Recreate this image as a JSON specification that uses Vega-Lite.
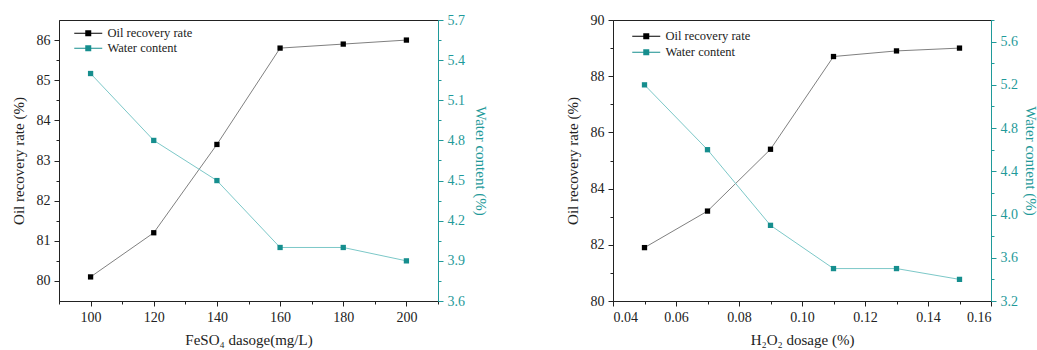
{
  "$schema": "https://vega.github.io/schema/vega-lite/v6.json",
  "background": "white",
  "padding": {"left": 10, "top": 12, "right": 2, "bottom": 2},
  "spacing": 76,
  "config": {
    "font": "Liberation Serif",
    "view": {"stroke": "#222", "strokeWidth": 1},
    "axis": {
      "grid": false,
      "labelFont": "Liberation Serif",
      "titleFont": "Liberation Serif",
      "labelFontSize": 14,
      "titleFontSize": 15,
      "titleFontWeight": "normal",
      "domainColor": "#222",
      "tickColor": "#222",
      "labelColor": "#222",
      "titleColor": "#222",
      "labelOverlap": false,
      "labelPadding": 4
    },
    "legend": {"labelFont": "Liberation Serif", "labelFontSize": 12.5, "labelColor": "#222"}
  },
  "hconcat": [
    {
      "width": 379,
      "height": 281,
      "data": {"values": [
        {"dose": 100, "oil": 80.1, "water": 5.3},
        {"dose": 120, "oil": 81.2, "water": 4.8},
        {"dose": 140, "oil": 83.4, "water": 4.5},
        {"dose": 160, "oil": 85.8, "water": 4.0},
        {"dose": 180, "oil": 85.9, "water": 4.0},
        {"dose": 200, "oil": 86.0, "water": 3.9}
      ]},
      "encoding": {
        "x": {"field": "dose", "type": "quantitative", "scale": {"domain": [90, 210], "nice": false, "zero": false},
          "axis": {"title": "FeSO₄ dasoge(mg/L)", "values": [90,100,110,120,130,140,150,160,170,180,190,200,210],
            "labelExpr": "indexof([100,120,140,160,180,200], datum.value) >= 0 ? format(datum.value, 'd') : ''",
            "tickSize": {"condition": {"test": "indexof([100,120,140,160,180,200], datum.value) < 0", "value": 3}, "value": 5},
            "titlePadding": 8}}
      },
      "layer": [
        {
          "encoding": {
            "y": {"field": "oil", "type": "quantitative", "scale": {"domain": [79.5, 86.5], "nice": false, "zero": false},
              "axis": {"title": "Oil recovery rate (%)", "values": [80,80.5,81,81.5,82,82.5,83,83.5,84,84.5,85,85.5,86],
                "labelExpr": "round(datum.value*10) % 10 == 0 ? format(datum.value, 'd') : ''",
                "tickSize": {"condition": {"test": "round(datum.value*10) % 10 != 0", "value": 3}, "value": 5},
                "titlePadding": 10}}
          },
          "layer": [
            {"mark": {"type": "line", "color": "#808080", "strokeWidth": 1}},
            {
              "mark": {"type": "point", "shape": "square", "filled": true, "size": 28, "opacity": 1},
              "encoding": {
                "color": {"datum": "Oil recovery rate", "type": "nominal",
                  "scale": {"domain": ["Oil recovery rate", "Water content"], "range": ["#000000", "#168e8e"]},
                  "legend": {"title": null, "orient": "none", "legendX": 14, "legendY": 7, "symbolType": "M-1,-0.1L4.6,-0.1L4.6,0.1L-1,0.1Z M1.2,-0.6L2.4,-0.6L2.4,0.6L1.2,0.6Z", "symbolSize": 100, "symbolStrokeWidth": 0, "rowPadding": 2, "labelOffset": 22}}
              }
            }
          ]
        },
        {
          "encoding": {
            "y": {"field": "water", "type": "quantitative", "scale": {"domain": [3.6, 5.7], "nice": false, "zero": false},
              "axis": {"orient": "right", "title": "Water content (%)", "values": [3.6,3.75,3.9,4.05,4.2,4.35,4.5,4.65,4.8,4.95,5.1,5.25,5.4,5.55,5.7],
                "labelExpr": "round(datum.value*100) % 30 == 0 ? format(datum.value, '.1f') : ''",
                "tickSize": {"condition": {"test": "round(datum.value*100) % 30 != 0", "value": 3}, "value": 5},
                "domainColor": "#1f9a9a", "tickColor": "#1f9a9a", "labelColor": "#1f9a9a", "titleColor": "#1f9a9a", "titlePadding": 8}}
          },
          "layer": [
            {"mark": {"type": "line", "color": "#7cc8c8", "strokeWidth": 1}},
            {
              "mark": {"type": "point", "shape": "square", "filled": true, "size": 28, "opacity": 1},
              "encoding": {"color": {"datum": "Water content", "type": "nominal"}}
            }
          ]
        }
      ],
      "resolve": {"scale": {"y": "independent"}}
    },
    {
      "width": 378,
      "height": 281,
      "data": {"values": [
        {"dose": 0.05, "oil": 81.9, "water": 5.2},
        {"dose": 0.07, "oil": 83.2, "water": 4.6},
        {"dose": 0.09, "oil": 85.4, "water": 3.9},
        {"dose": 0.11, "oil": 88.7, "water": 3.5},
        {"dose": 0.13, "oil": 88.9, "water": 3.5},
        {"dose": 0.15, "oil": 89.0, "water": 3.4}
      ]},
      "encoding": {
        "x": {"field": "dose", "type": "quantitative", "scale": {"domain": [0.04, 0.16], "nice": false, "zero": false},
          "axis": {"title": "H₂O₂ dosage (%)", "values": [0.04,0.05,0.06,0.07,0.08,0.09,0.1,0.11,0.12,0.13,0.14,0.15,0.16],
            "labelExpr": "round(datum.value*1000) % 20 == 0 ? format(datum.value, '.2f') : ''",
            "tickSize": {"condition": {"test": "round(datum.value*1000) % 20 != 0", "value": 3}, "value": 5},
            "titlePadding": 8}}
      },
      "layer": [
        {
          "encoding": {
            "y": {"field": "oil", "type": "quantitative", "scale": {"domain": [80, 90], "nice": false, "zero": false},
              "axis": {"title": "Oil recovery rate (%)", "values": [80,81,82,83,84,85,86,87,88,89,90],
                "labelExpr": "round(datum.value) % 2 == 0 ? format(datum.value, 'd') : ''",
                "tickSize": {"condition": {"test": "round(datum.value) % 2 != 0", "value": 3}, "value": 5},
                "titlePadding": 10}}
          },
          "layer": [
            {"mark": {"type": "line", "color": "#808080", "strokeWidth": 1}},
            {
              "mark": {"type": "point", "shape": "square", "filled": true, "size": 28, "opacity": 1},
              "encoding": {
                "color": {"datum": "Oil recovery rate", "type": "nominal",
                  "scale": {"domain": ["Oil recovery rate", "Water content"], "range": ["#000000", "#168e8e"]},
                  "legend": {"title": null, "orient": "none", "legendX": 18, "legendY": 10, "symbolType": "M-1,-0.1L4.6,-0.1L4.6,0.1L-1,0.1Z M1.2,-0.6L2.4,-0.6L2.4,0.6L1.2,0.6Z", "symbolSize": 100, "symbolStrokeWidth": 0, "rowPadding": 3, "labelOffset": 22}}
              }
            }
          ]
        },
        {
          "encoding": {
            "y": {"field": "water", "type": "quantitative", "scale": {"domain": [3.2, 5.8], "nice": false, "zero": false},
              "axis": {"orient": "right", "title": "Water content (%)", "values": [3.2,3.4,3.6,3.8,4.0,4.2,4.4,4.6,4.8,5.0,5.2,5.4,5.6,5.8],
                "labelExpr": "round(datum.value*100) % 40 == 0 ? format(datum.value, '.1f') : ''",
                "tickSize": {"condition": {"test": "round(datum.value*100) % 40 != 0", "value": 3}, "value": 5},
                "domainColor": "#1f9a9a", "tickColor": "#1f9a9a", "labelColor": "#1f9a9a", "titleColor": "#1f9a9a", "titlePadding": 5}}
          },
          "layer": [
            {"mark": {"type": "line", "color": "#7cc8c8", "strokeWidth": 1}},
            {
              "mark": {"type": "point", "shape": "square", "filled": true, "size": 28, "opacity": 1},
              "encoding": {"color": {"datum": "Water content", "type": "nominal"}}
            }
          ]
        }
      ],
      "resolve": {"scale": {"y": "independent"}}
    }
  ],
  "resolve": {"scale": {"color": "independent"}, "legend": {"color": "independent"}}
}
